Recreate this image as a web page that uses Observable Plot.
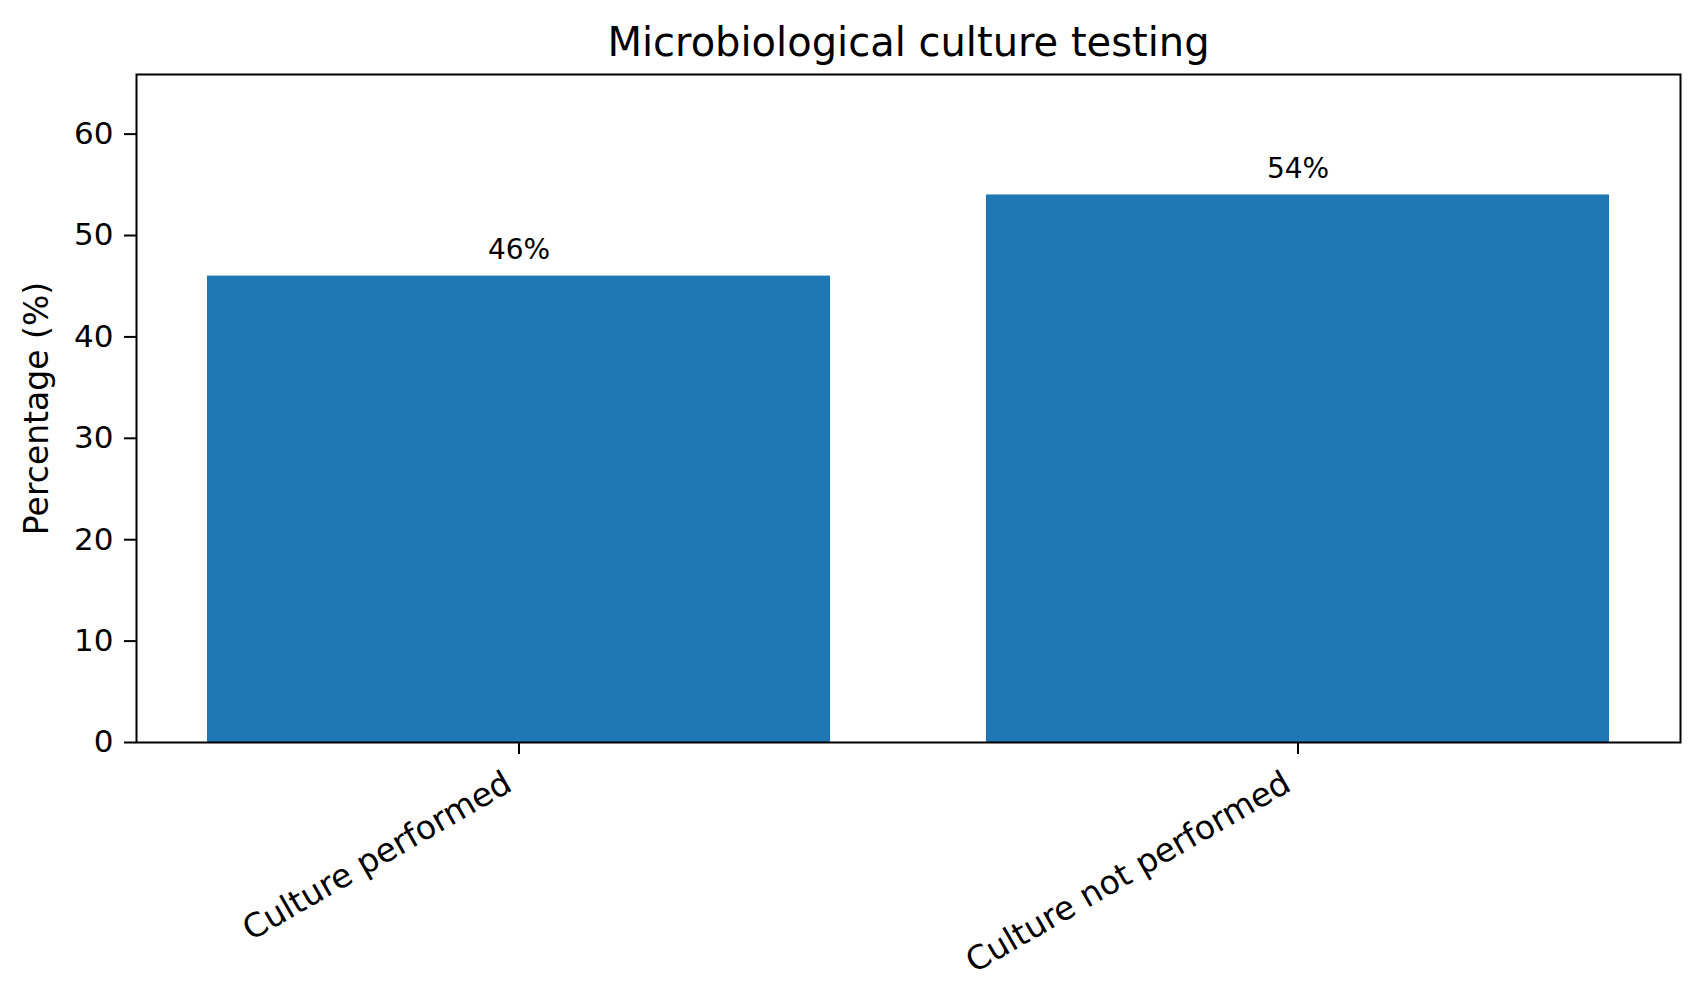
<!DOCTYPE html>
<html>
<head>
<meta charset="utf-8">
<script src="https://cdn.jsdelivr.net/npm/d3@7"></script>
<script src="https://cdn.jsdelivr.net/npm/@observablehq/plot@0.6"></script>
<style>
  html, body { margin: 0; padding: 0; background: #fff; overflow: hidden; }
  #chart svg { display: block; }
</style>
</head>
<body>
<div id="chart"></div>
<script>
const title = "Microbiological culture testing";
const yLabel = "Percentage (%)";
const categories = ["Culture performed", "Culture not performed"];
const percentages = [46, 54];
const barLabels = ["46%", "54%"];
const yTicks = [0, 10, 20, 30, 40, 50, 60];

const rows = categories.map((c, i) => ({category: c, value: percentages[i], label: barLabels[i]}));
const font = "DejaVu Sans, Liberation Sans, sans-serif";

const chart = Plot.plot({
  width: 1703,
  height: 1004,
  marginLeft: 136,
  marginRight: 23,
  marginTop: 74,
  marginBottom: 262,
  style: {fontFamily: font, color: "#000", background: "#fff"},
  x: {domain: categories, paddingInner: 0.2, paddingOuter: 0.09, axis: null, label: null},
  y: {domain: [0, 65.88], axis: null, label: null},
  marks: [
    Plot.barY(rows, {x: "category", y: "value", fill: "#1f77b4"}),
    Plot.frame({stroke: "#000", strokeWidth: 2}),
    Plot.axisY(yTicks, {tickSize: 12, tickPadding: 11, fontSize: 31, strokeWidth: 2, label: null, stroke: "#000", fill: "#000"}),
    Plot.axisX({tickSize: 12, tickFormat: () => "", strokeWidth: 2, label: null, stroke: "#000"}),
    Plot.text(rows, {x: "category", frameAnchor: "bottom", text: "category", rotate: -30, textAnchor: "end", lineAnchor: "bottom", dx: -5, dy: 47, fontSize: 33, fill: "#000"}),
    Plot.text(rows, {x: "category", y: "value", text: "label", lineAnchor: "bottom", dy: -17, fontSize: 28, fill: "#000"}),
    Plot.text([title], {frameAnchor: "top", text: d => d, lineAnchor: "bottom", dy: -19, fontSize: 40, fill: "#000"}),
    Plot.text([yLabel], {frameAnchor: "left", text: d => d, rotate: -90, textAnchor: "middle", lineAnchor: "bottom", dx: -89, fontSize: 33, fill: "#000"})
  ]
});
document.getElementById("chart").appendChild(chart);
</script>
</body>
</html>
